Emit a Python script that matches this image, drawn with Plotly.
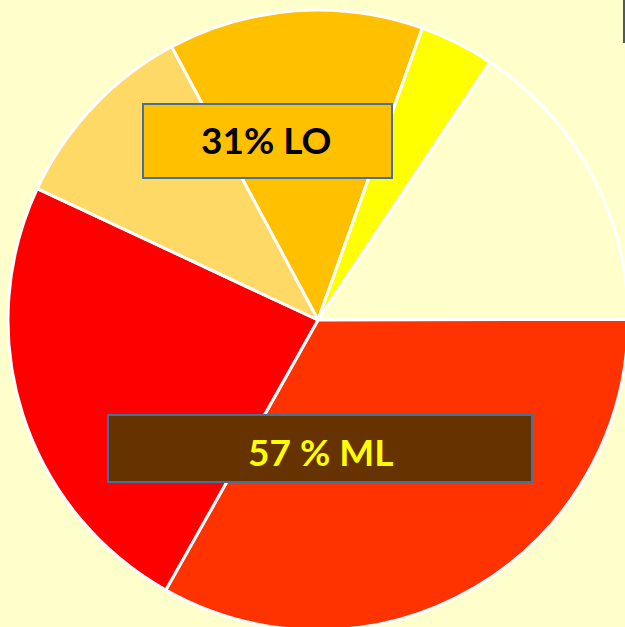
import plotly.graph_objects as go

# Slice data (clockwise from the orange slice at ~ -28 degrees)
labels = ["Orange", "Jaune", "Crème", "Rouge-orangé", "Rouge", "Orange clair"]
values = [13.3, 3.9, 15.6, 33.2, 23.8, 10.2]
colors = ["#FFC000", "#FFFF00", "#FFFFCC", "#FF3300", "#FF0000", "#FFD966"]

box_texts = ["31% LO", "57 % ML"]

# Figure is a bit larger than the 625x627 window so the pie can be cropped
W, H = 640, 640
BG = "#FFFFCC"

def px(x):
    return x / W

def py(y):
    return 1 - y / H

fig = go.Figure()
fig.add_trace(go.Pie(
    labels=labels,
    values=values,
    marker=dict(colors=colors, line=dict(color="white", width=3)),
    sort=False,
    direction="clockwise",
    rotation=-28.2,
    textinfo="none",
    hoverinfo="skip",
    showlegend=False,
    domain=dict(x=[px(8), px(628)], y=[py(630), py(10)]),
))

shapes = [
    dict(type="rect", xref="paper", yref="paper",
         x0=px(143), x1=px(392), y0=py(178), y1=py(104),
         fillcolor="#FFC000", line=dict(color="#41719C", width=2)),
    dict(type="rect", xref="paper", yref="paper",
         x0=px(108), x1=px(532), y0=py(482), y1=py(415),
         fillcolor="#663300", line=dict(color="#41719C", width=2)),
    dict(type="rect", xref="paper", yref="paper",
         x0=px(623), x1=px(626), y0=py(43), y1=1,
         fillcolor="#4A5A5E", line=dict(width=0)),
]

annotations = [
    dict(text=box_texts[0], xref="paper", yref="paper",
         x=px(266), y=py(139), xanchor="center", yanchor="middle",
         showarrow=False,
         font=dict(family="Lato", size=37, color="black", weight="bold")),
    dict(text=box_texts[1], xref="paper", yref="paper",
         x=px(320), y=py(451), xanchor="center", yanchor="middle",
         showarrow=False,
         font=dict(family="Lato", size=37, color="#FFFF00", weight="bold")),
]

fig.update_layout(
    width=W, height=H,
    margin=dict(l=0, r=0, t=0, b=0),
    paper_bgcolor=BG,
    plot_bgcolor=BG,
    shapes=shapes,
    annotations=annotations,
)

fig.write_html(
    "out.html",
    config={"displayModeBar": False},
    post_script="document.body.style.margin='0';document.body.style.background='#FFFFCC';document.body.style.overflow='hidden';",
)
